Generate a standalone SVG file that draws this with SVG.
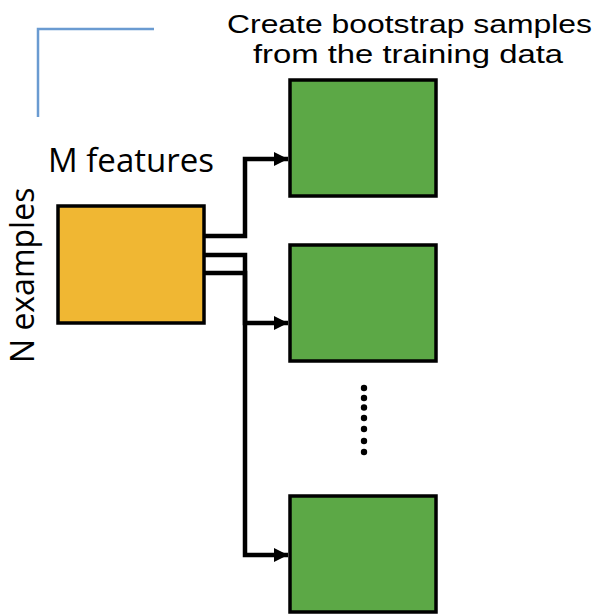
<svg xmlns="http://www.w3.org/2000/svg" width="601" height="614" viewBox="0 0 601 614">
<defs>
<style>
.lbl{font-family:"Open Sans","Liberation Sans",sans-serif;fill:#000}
.ttl{font-family:"Liberation Sans",Arial,sans-serif;fill:#000}
.box{stroke:#000;stroke-width:3.5}
.green{fill:#5ca846}
.orange{fill:#f0b733}
.conn{fill:none;stroke:#000;stroke-width:4.5;stroke-linejoin:miter}
</style>
<marker id="arr" markerUnits="userSpaceOnUse" markerWidth="16" markerHeight="16" viewBox="0 0 16 16" refX="14" refY="8" orient="auto">
<path d="M0,1 L14,8 L0,15 Z" fill="#000"/>
</marker>
</defs>
<g id="corner">
<path d="M38,117 V29 H154" fill="none" stroke="#6a9bd1" stroke-width="2.5"/>
</g>
<g id="title">
<text class="ttl" font-size="26.5"><tspan x="227" y="33" textLength="365" lengthAdjust="spacingAndGlyphs">Create bootstrap samples</tspan><tspan x="253" y="63" textLength="310" lengthAdjust="spacingAndGlyphs">from the training data</tspan></text>
</g>
<g id="data">
<rect class="box orange" x="58" y="206" width="146" height="117"/>
<text class="lbl" font-size="33" x="48" y="172">M features</text>
<text class="lbl" font-size="32" transform="translate(34,363) rotate(-90)">N examples</text>
</g>
<g id="sample1"><rect class="box green" x="290" y="80" width="146" height="116"/></g>
<g id="sample2"><rect class="box green" x="290" y="245" width="146" height="116"/></g>
<g id="sample3"><rect class="box green" x="290" y="496" width="146" height="116"/></g>
<g id="dots" fill="#000">
<circle cx="364" cy="388" r="3.2"/>
<circle cx="364" cy="398" r="3.2"/>
<circle cx="364" cy="407.5" r="3.2"/>
<circle cx="364" cy="418" r="3.2"/>
<circle cx="364" cy="429" r="3.2"/>
<circle cx="364" cy="441" r="3.2"/>
<circle cx="364" cy="452" r="3.2"/>
</g>
<g id="connectors">
<path class="conn" d="M204,236 H245 V159 H288" marker-end="url(#arr)"/>
<path class="conn" d="M204,255 H245 V323 H288" marker-end="url(#arr)"/>
<path class="conn" d="M204,273 H245 V555 H288" marker-end="url(#arr)"/>
</g>
</svg>
